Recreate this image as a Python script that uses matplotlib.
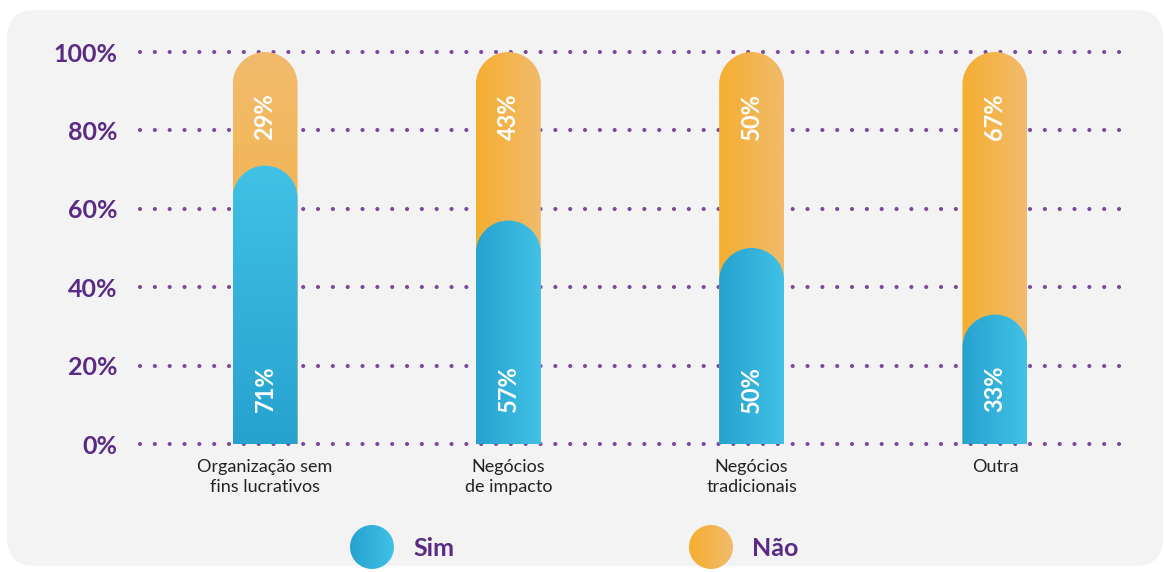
import matplotlib.pyplot as plt
import numpy as np
from matplotlib.patches import FancyBboxPatch, PathPatch, Circle
from matplotlib.path import Path
from matplotlib.colors import to_rgb

# data
categories = ["Organização sem\nfins lucrativos", "Negócios\nde impacto",
              "Negócios\ntradicionais", "Outra"]
sim = [71, 57, 50, 33]
nao = [29, 43, 50, 67]
yticks = [0, 20, 40, 60, 80, 100]

# colours (dark -> light for gradients)
blue = ("#26a2cf", "#41c1e6")
orange = ("#f5ae30", "#f1bb6c")
purple = "#5a2a85"
dot_col = "#7b4a9c"
# gradient direction per bar: "v" = bottom->top, "h" = left->right
grad_dir = ["v", "h", "h", "h"]

W, H = 1165, 572
fig = plt.figure(figsize=(W / 100, H / 100), dpi=100)
fig.patch.set_facecolor("white")

# background panel (pixel coordinates)
bg = fig.add_axes([0, 0, 1, 1], zorder=0)
bg.set_xlim(0, W)
bg.set_ylim(H, 0)
bg.axis("off")
bg.add_patch(FancyBboxPatch((7, 10), 1156, 556, boxstyle="round,pad=0,rounding_size=28",
                            fc="#f3f3f3", ec="none", zorder=0))

# main axes: 0% at y=444px, 100% at y=52px
ax = fig.add_axes([140 / W, (H - 444) / H, 980 / W, 392 / H], zorder=1)
ax.patch.set_alpha(0)
ax.set_xlim(-0.514, 3.514)
ax.set_ylim(0, 100)
for s in ax.spines.values():
    s.set_visible(False)
ax.tick_params(length=0)

for v in yticks:
    ax.axhline(v, color=dot_col, lw=3.0, linestyle=(0, (0.01, 3.55)),
               dash_capstyle="round", zorder=1, clip_on=False)

ax.set_yticks(yticks)
ax.set_yticklabels([f"{v}%" for v in yticks], fontsize=18, fontweight="bold",
                   color=purple, family="Lato")
ax.tick_params(axis="y", pad=16)
x = np.arange(len(categories))
ax.set_xticks(x)
ax.set_xticklabels(categories, fontsize=13, color="#222222", family="Lato",
                   linespacing=1.3)
ax.tick_params(axis="x", pad=11)

bw = 0.267
r_y = (65 / 2) / 392 * 100   # cap radius in y-data units


def gradient(c0, c1, direction, n=64):
    a, b = np.array(to_rgb(c0)), np.array(to_rgb(c1))
    t = np.linspace(0, 1, n)
    if direction == "v":
        g = t[::-1][:, None, None]        # row 0 is top -> light
        img = a + (b - a) * g
        img = np.repeat(img, 2, axis=1)
    else:
        g = t[None, :, None]
        img = a + (b - a) * g
        img = np.repeat(img, 2, axis=0)
    return img


def capsule(xc, top, z, cols, direction):
    x0, x1 = xc - bw / 2, xc + bw / 2
    rx = bw / 2
    k = 0.5523
    verts = [(x0, 0), (x1, 0), (x1, top - r_y),
             (x1, top - r_y + k * r_y), (xc + k * rx, top), (xc, top),
             (xc - k * rx, top), (x0, top - r_y + k * r_y), (x0, top - r_y),
             (x0, 0)]
    codes = [Path.MOVETO, Path.LINETO, Path.LINETO,
             Path.CURVE4, Path.CURVE4, Path.CURVE4,
             Path.CURVE4, Path.CURVE4, Path.CURVE4, Path.CLOSEPOLY]
    patch = PathPatch(Path(verts, codes), fc="none", ec="none", zorder=z)
    ax.add_patch(patch)
    im = ax.imshow(gradient(cols[0], cols[1], direction), extent=(x0, x1, 0, top),
                   aspect="auto", zorder=z, interpolation="bilinear")
    im.set_clip_path(patch)


for i in range(len(categories)):
    capsule(x[i], sim[i] + nao[i], 2, orange, grad_dir[i])
    capsule(x[i], sim[i], 3, blue, grad_dir[i])
    ax.text(x[i], 14, f"{sim[i]}%", rotation=90, ha="center", va="center",
            color="white", fontsize=17, fontweight="bold", family="Lato", zorder=5)
    ax.text(x[i], 83.5, f"{nao[i]}%", rotation=90, ha="center", va="center",
            color="white", fontsize=17, fontweight="bold", family="Lato", zorder=5)
ax.set_xlim(-0.514, 3.514)
ax.set_ylim(0, 100)

# legend (pixel coordinates on background axes)
for (cx, label, cols) in [(372, "Sim", blue), (711, "Não", orange)]:
    circ = Circle((cx, 547), 22, fc="none", ec="none", zorder=2)
    bg.add_patch(circ)
    im = bg.imshow(gradient(cols[0], cols[1], "h"), extent=(cx - 22, cx + 22, 569, 525),
                   aspect="auto", interpolation="bilinear", zorder=2)
    im.set_clip_path(circ)
    bg.text(cx + 41, 548, label, ha="left", va="center", fontsize=18,
            fontweight="bold", color=purple, family="Lato", zorder=3)
bg.set_xlim(0, W)
bg.set_ylim(H, 0)

fig.savefig("out.png", dpi=100, facecolor=fig.get_facecolor())
